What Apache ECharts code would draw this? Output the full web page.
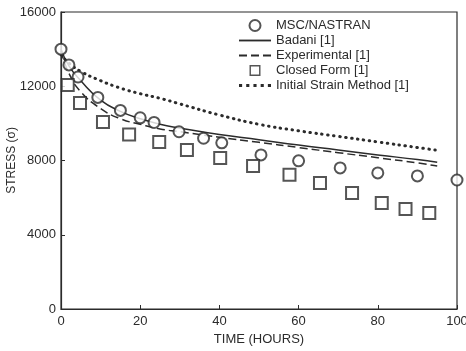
<!DOCTYPE html>
<html>
<head>
<meta charset="utf-8">
<script src="https://cdn.jsdelivr.net/npm/echarts@6/dist/echarts.min.js"></script>
<style>
  html, body { margin: 0; padding: 0; background: #fff; }
  #chart { width: 466px; height: 351px; }
</style>
</head>
<body>
<div id="chart"></div>
<script>
// time (hours) and stress values
var nastranTime = [0, 2, 4.3, 9.3, 15, 20, 23.5, 29.8, 36, 40.6, 50.5, 60, 70.5, 80, 90, 100];
var nastranStress = [14000, 13150, 12500, 11400, 10700, 10300, 10050, 9550, 9200, 8950, 8300, 7980, 7600, 7330, 7170, 6950];

var closedTime = [1.7, 4.8, 10.6, 17.2, 24.8, 31.8, 40.2, 48.5, 57.7, 65.4, 73.5, 81, 87, 93];
var closedStress = [12070, 11100, 10080, 9400, 9000, 8570, 8140, 7710, 7230, 6790, 6250, 5710, 5390, 5170];

var curveTime = [0, 2, 5, 10, 15, 20, 25, 30, 40, 50, 60, 70, 80, 90, 95];
var badani = [14000, 13100, 12300, 11250, 10650, 10250, 9950, 9750, 9400, 9120, 8830, 8570, 8300, 8050, 7900];
var experimental = [13900, 12700, 11700, 10800, 10250, 9950, 9700, 9550, 9250, 8980, 8700, 8420, 8150, 7870, 7700];
var initialStrain = [13700, 13250, 12800, 12300, 11900, 11600, 11350, 11050, 10450, 9950, 9600, 9300, 9000, 8700, 8550];

var yTicks = [0, 4000, 8000, 12000, 16000];
var xTicks = [0, 20, 40, 60, 80, 100];

function pairs(xs, ys) {
  return xs.map(function (x, i) { return [x, ys[i]]; });
}

var ink = "#2b2b2b";
var font = "Liberation Sans";

// legend glyphs, drawn like the figure's key
var iconSolid = "path://M0,0H28V1.6H0Z";
var iconDashed = "path://M0,0H7V1.6H0Z M10.5,0H17.5V1.6H10.5Z M21,0H28V1.6H21Z";
var iconDotted = "path://M0,0H2.6V2.6H0Z M6,0H8.6V2.6H6Z M12,0H14.6V2.6H12Z M18,0H20.6V2.6H18Z M24,0H26.6V2.6H24Z";
var iconSquare = "path://M0,0H10V10H0Z M1.3,1.3V8.7H8.7V1.3Z";

var chart = echarts.init(document.getElementById("chart"));
var option = {
  backgroundColor: "#fff",
  animation: false,
  textStyle: { fontFamily: font, color: ink },
  grid: {
    left: 61, right: 9, top: 12, bottom: 42,
    outerBoundsMode: "none",
    containLabel: false,
    show: true, borderColor: ink, borderWidth: 1.2
  },
  legend: {
    orient: "vertical",
    left: 234,
    top: 14,
    itemWidth: 32,
    itemHeight: 11,
    itemGap: 2,
    textStyle: { fontFamily: font, fontSize: 13, color: ink },
    data: [
      { name: "MSC/NASTRAN", icon: "emptyCircle" },
      { name: "Badani [1]", icon: iconSolid },
      { name: "Experimental [1]", icon: iconDashed },
      { name: "Closed Form [1]", icon: iconSquare },
      { name: "Initial Strain Method [1]", icon: iconDotted }
    ]
  },
  xAxis: {
    type: "value",
    min: xTicks[0],
    max: xTicks[xTicks.length - 1],
    interval: 20,
    name: "TIME (HOURS)",
    nameLocation: "middle",
    nameGap: 24,
    nameTextStyle: { fontFamily: font, fontSize: 13, color: ink },
    axisLine: { lineStyle: { color: ink, width: 1.2 } },
    axisTick: { inside: true, length: 4, lineStyle: { color: ink } },
    axisLabel: { fontFamily: font, fontSize: 13, color: ink, margin: 6 },
    splitLine: { show: false }
  },
  yAxis: {
    type: "value",
    min: yTicks[0],
    max: yTicks[yTicks.length - 1],
    interval: 4000,
    name: "STRESS (\u03c3)",
    nameLocation: "middle",
    nameGap: 43,
    nameMoveOverlap: false,
    nameTextStyle: { fontFamily: font, fontSize: 12, color: ink },
    axisLine: { show: true, lineStyle: { color: ink, width: 1.2 } },
    axisTick: { show: true, inside: true, length: 4, lineStyle: { color: ink } },
    axisLabel: {
      fontFamily: font, fontSize: 13, color: ink, margin: 5,
      formatter: function (v) { return String(v); }
    },
    splitLine: { show: false }
  },
  series: [
    {
      name: "MSC/NASTRAN",
      type: "scatter",
      symbol: "emptyCircle",
      symbolSize: 11,
      itemStyle: { color: ink, borderWidth: 1.2 },
      data: pairs(nastranTime, nastranStress),
      z: 5
    },
    {
      name: "Badani [1]",
      type: "line",
      showSymbol: false,
      symbol: "none",
      smooth: true,
      lineStyle: { color: ink, width: 1.5 },
      itemStyle: { color: ink },
      data: pairs(curveTime, badani)
    },
    {
      name: "Experimental [1]",
      type: "line",
      showSymbol: false,
      symbol: "none",
      smooth: true,
      lineStyle: { color: ink, width: 1.5, type: [8, 4] },
      itemStyle: { color: ink },
      data: pairs(curveTime, experimental)
    },
    {
      name: "Closed Form [1]",
      type: "scatter",
      symbol: "emptyRect",
      symbolSize: 12,
      itemStyle: { color: ink, borderWidth: 1.2 },
      data: pairs(closedTime, closedStress),
      z: 5
    },
    {
      name: "Initial Strain Method [1]",
      type: "line",
      showSymbol: false,
      symbol: "none",
      smooth: true,
      lineStyle: { color: ink, width: 3, type: [0.5, 5.5], cap: "round" },
      itemStyle: { color: ink },
      data: pairs(curveTime, initialStrain)
    }
  ]
};
option && chart.setOption(option);
</script>
</body>
</html>
